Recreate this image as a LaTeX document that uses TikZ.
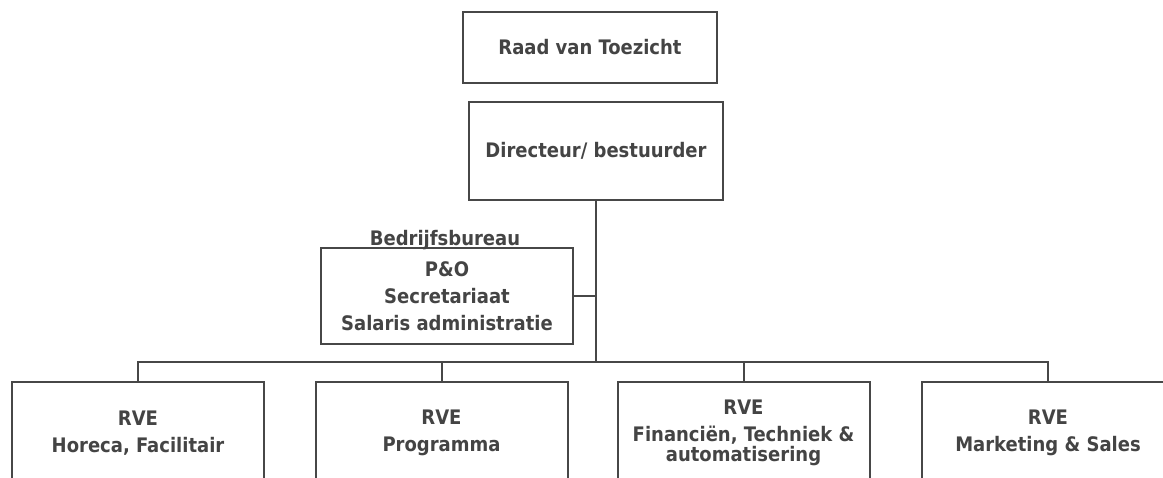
\documentclass[tikz,border=0pt]{standalone}
\usepackage{fontspec}
\setmainfont{DejaVu Sans}
\newfontfamily\boxfont{DejaVu Sans Condensed}
\definecolor{linec}{HTML}{474747}
\definecolor{textc}{HTML}{444444}
\begin{document}
\begin{tikzpicture}[x=1pt,y=-1pt,
  box/.style={draw=linec, line width=2pt, align=center, inner sep=0pt,
    font=\boxfont\bfseries\fontsize{20}{27}\selectfont, text=textc},
  conn/.style={draw=linec, line width=2pt},
  lbl/.style={font=\boxfont\bfseries\fontsize{20}{27}\selectfont, text=textc, inner sep=0pt}]
\useasboundingbox (0,0) rectangle (1163,477);
\clip (0,0) rectangle (1163,477);
\node[box, minimum width=254pt, minimum height=71pt] (raad) at (590,47.5) {Raad van Toezicht};
\node[box, minimum width=254pt, minimum height=98pt] (dir) at (596,151) {Directeur/ bestuurder};
\node[box, minimum width=252pt, minimum height=96pt] (po) at (447,296) {P\&O\\Secretariaat\\Salaris administratie};
\node[lbl, anchor=base] (bb) at (445,245) {Bedrijfsbureau};
\node[box, minimum width=252pt, minimum height=102pt] (b1) at (138,433) {RVE\\Horeca, Facilitair};
\node[box, minimum width=252pt, minimum height=102pt] (b2) at (441.5,433) {RVE\\Programma};
\node[box, minimum width=252pt, minimum height=102pt] (b3) at (743.5,433) {RVE\\Financiën, Techniek \&\\[-7pt]automatisering};
\node[box, minimum width=252pt, minimum height=102pt] (b4) at (1048,433) {RVE\\Marketing \& Sales};
\coordinate (bus) at (596,362);
\draw[conn] (dir.south) -- (dir.south |- bus);
\draw[conn] (po.east) -- (po.east -| dir.south);
\draw[conn] (b1.north) -- (b1.north |- bus) -- (b4.north |- bus) -- (b4.north);
\draw[conn] (b2.north) -- (b2.north |- bus);
\draw[conn] (b3.north) -- (b3.north |- bus);
\end{tikzpicture}
\end{document}
